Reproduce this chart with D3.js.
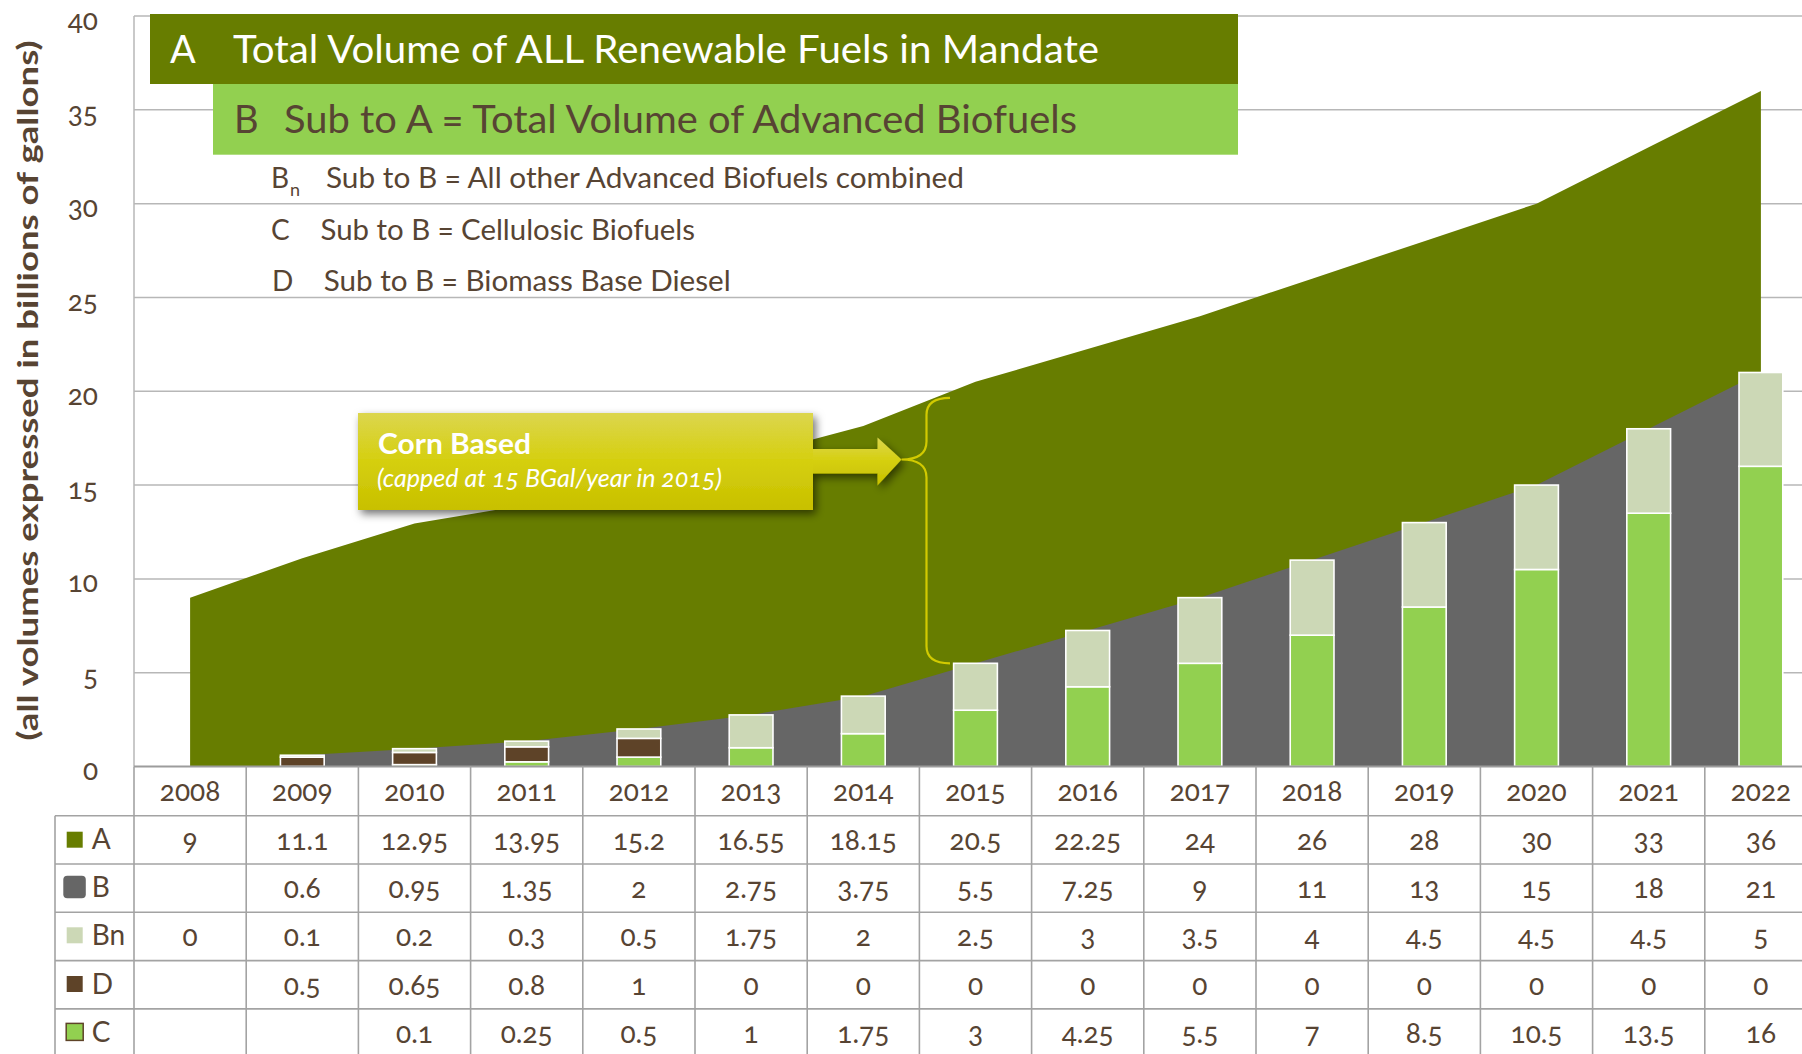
<!DOCTYPE html>
<html><head><meta charset="utf-8">
<script src="https://cdn.jsdelivr.net/npm/d3@7"></script>
<style>
html,body{margin:0;padding:0;background:#fff;}
svg{display:block;}
text{font-family:Lato,"Open Sans","Noto Sans",sans-serif;font-variant-numeric:oldstyle-nums;}
</style></head><body>
<svg id="chart" width="1802" height="1054"></svg>
<script>
// ---------- data ----------
const years  = [2008,2009,2010,2011,2012,2013,2014,2015,2016,2017,2018,2019,2020,2021,2022];
const seriesA  = [9,11.1,12.95,13.95,15.2,16.55,18.15,20.5,22.25,24,26,28,30,33,36];
const seriesB  = [null,0.6,0.95,1.35,2,2.75,3.75,5.5,7.25,9,11,13,15,18,21];
const seriesBn = [0,0.1,0.2,0.3,0.5,1.75,2,2.5,3,3.5,4,4.5,4.5,4.5,5];
const seriesD  = [null,0.5,0.65,0.8,1,0,0,0,0,0,0,0,0,0,0];
const seriesC  = [null,null,0.1,0.25,0.5,1,1.75,3,4.25,5.5,7,8.5,10.5,13.5,16];
const rowLabels = ["A","B","Bn","D","C"];
const yTicks = [0,5,10,15,20,25,30,35,40];
const yTitle = "(all volumes expressed in billions of gallons)";
const bannerA = ["A","Total Volume of ALL Renewable Fuels in Mandate"];
const bannerB = ["B","Sub to A = Total Volume of Advanced Biofuels"];
const subLines = [
  ["B","n","Sub to B = All other Advanced Biofuels combined"],
  ["C","","Sub to B = Cellulosic Biofuels"],
  ["D","","Sub to B = Biomass Base Diesel"]
];
const cornTitle = "Corn Based";
const cornSub = "(capped at 15 BGal/year in 2015)";
const cornYear = 2015;

// ---------- style ----------
const colA="#677d00", colB="#666666", colBn="#ccd8b6", colD="#5e4328", colC="#92d050";
const textCol="#574433", gridCol="#b7b7b7", tableCol="#a3a3a3";

const svg = d3.select("#chart");
const W = 1802, H = 1054;
const plotL = 134, plotR = W;
const colW = 112.2;

const x = d3.scaleBand().domain(years).range([plotL, plotL + colW*years.length]).paddingInner(0).paddingOuter(0);
const bw = x.bandwidth();
const cx = yr => x(yr) + bw/2;
const y = d3.scaleLinear().domain([0,40]).range([766.5,16]);

// defs
const defs = svg.append("defs");
const grad = defs.append("linearGradient").attr("id","cornGrad").attr("x1",0).attr("x2",0).attr("y1",0).attr("y2",1);
grad.append("stop").attr("offset","0%").attr("stop-color","#dcd64e");
grad.append("stop").attr("offset","50%").attr("stop-color","#d5cf0e");
grad.append("stop").attr("offset","100%").attr("stop-color","#c8c000");
const flt = defs.append("filter").attr("id","shadow").attr("x","-10%").attr("y","-20%").attr("width","130%").attr("height","150%");
flt.append("feDropShadow").attr("dx",3).attr("dy",4).attr("stdDeviation",4).attr("flood-color","#000").attr("flood-opacity",0.55);

// gridlines
svg.append("g").selectAll("line").data(yTicks.filter(t=>t>0)).join("line")
  .attr("x1",plotL).attr("x2",plotR).attr("y1",d=>y(d)).attr("y2",d=>y(d))
  .attr("stroke",gridCol).attr("stroke-width",1.5);
svg.append("line").attr("x1",plotL).attr("x2",plotL).attr("y1",y(40)).attr("y2",y(0))
  .attr("stroke",gridCol).attr("stroke-width",1.5);

// areas
const rowsA = years.map((yr,i)=>({yr, v:seriesA[i]}));
const rowsB = years.map((yr,i)=>({yr, v:seriesB[i]}));
const area = d3.area().defined(d=>d.v!=null).x(d=>cx(d.yr)).y0(y(0)).y1(d=>y(d.v));
svg.append("path").attr("d",area(rowsA)).attr("fill",colA);
svg.append("path").attr("d",area(rowsB)).attr("fill",colB);

// stacked bars: C bottom, D, Bn top
const barW = bw*0.39;
const stackRows = years.map((yr,i)=>({yr, C:seriesC[i]||0, D:seriesD[i]||0, Bn:seriesBn[i]||0}));
const stack = d3.stack().keys(["C","D","Bn"])(stackRows);
const barCols = {C:colC, D:colD, Bn:colBn};
const bars = svg.append("g");
stack.forEach(layer=>{
  bars.append("g").selectAll("rect").data(layer.filter(d=>d[1]-d[0]>0)).join("rect")
    .attr("x",d=>cx(d.data.yr)-barW/2).attr("width",barW)
    .attr("y",d=>y(d[1])).attr("height",d=>y(d[0])-y(d[1]))
    .attr("fill",barCols[layer.key]).attr("stroke","#fff").attr("stroke-width",1.6);
});

// baseline
svg.append("line").attr("x1",plotL).attr("x2",plotR).attr("y1",y(0)).attr("y2",y(0))
  .attr("stroke","#9c9c9c").attr("stroke-width",2);

// y tick labels
const yAxis = d3.axisLeft(y).tickValues(yTicks).tickSize(0).tickPadding(0).tickFormat(d3.format("d"));
const ya = svg.append("g").attr("transform","translate(98,0)").call(yAxis);
ya.select(".domain").remove();
ya.selectAll("text").attr("dy",null).attr("dominant-baseline",null)
  .attr("y",13).attr("x",0).attr("text-anchor","end")
  .attr("fill",textCol).style("font-size","28px").style("font-family","Lato, sans-serif");

// y title
svg.append("text").attr("transform","translate(38,390.5) rotate(-90)")
  .attr("text-anchor","middle").attr("fill",textCol)
  .style("font-size","28px").style("font-weight","bold")
  .attr("textLength",700).attr("lengthAdjust","spacingAndGlyphs").text(yTitle);

// banners
svg.append("rect").attr("x",150).attr("y",14).attr("width",1088).attr("height",70).attr("fill",colA);
svg.append("rect").attr("x",213).attr("y",84).attr("width",1025).attr("height",70.7).attr("fill",colC);
svg.append("text").attr("x",170).attr("y",63).attr("fill","#fff").style("font-size","38px").text(bannerA[0]);
svg.append("text").attr("x",233).attr("y",63).attr("fill","#fff").style("font-size","38px")
  .attr("textLength",866).attr("lengthAdjust","spacingAndGlyphs").text(bannerA[1]);
svg.append("text").attr("x",234).attr("y",133).attr("fill",textCol).style("font-size","38px").text(bannerB[0]);
svg.append("text").attr("x",284).attr("y",133).attr("fill",textCol).style("font-size","38px")
  .attr("textLength",793).attr("lengthAdjust","spacingAndGlyphs").text(bannerB[1]);

const subPos = [{lx:271,tx:326,len:638,by:188},{lx:271,tx:320.5,len:374.5,by:240},{lx:272,tx:323.7,len:407,by:290.7}];
subLines.forEach((l,i)=>{
  const p = subPos[i];
  svg.append("text").attr("x",p.lx).attr("y",p.by).attr("fill",textCol).style("font-size","28px").text(l[0]);
  if (l[1]) svg.append("text").attr("x",p.lx+19).attr("y",p.by+8).attr("fill",textCol).style("font-size","18px").text(l[1]);
  svg.append("text").attr("x",p.tx).attr("y",p.by).attr("fill",textCol).style("font-size","28px")
    .attr("textLength",p.len).attr("lengthAdjust","spacingAndGlyphs").text(l[2]);
});

// corn annotation
const cIdx = years.indexOf(cornYear);
const cxC = cx(cornYear);
const boxX = 358, boxY = 413, boxW = 455, boxH = 97;
const tipX = cxC - 74, tipY = 459.5;
const cg = svg.append("g").attr("filter","url(#shadow)");
cg.append("path").attr("d",
  `M${boxX+boxW-5},${tipY-10.5} L${tipX-24},${tipY-10.5} L${tipX-24},${tipY-22} L${tipX},${tipY} L${tipX-24},${tipY+26} L${tipX-24},${tipY+14} L${boxX+boxW-5},${tipY+14} Z`)
  .attr("fill","url(#cornGrad)");
cg.append("rect").attr("x",boxX).attr("y",boxY).attr("width",boxW).attr("height",boxH).attr("fill","url(#cornGrad)");
svg.append("text").attr("x",378).attr("y",454).attr("fill","#fff").style("font-size","29px").style("font-weight","bold")
  .attr("textLength",153).attr("lengthAdjust","spacingAndGlyphs").text(cornTitle);
svg.append("text").attr("x",377).attr("y",487).attr("fill","#fff").style("font-size","26px").style("font-style","italic")
  .attr("textLength",345).attr("lengthAdjust","spacingAndGlyphs").text(cornSub);

// brace
const bxEnd = cxC - 25.5, bxV = cxC - 49;
const byT = y(seriesA[cIdx]) + 16, byB = y(seriesB[cIdx]);
svg.append("path").attr("d",
  `M${bxEnd},${byT} Q${bxV},${byT} ${bxV},${byT+17} L${bxV},${tipY-18} Q${bxV},${tipY} ${tipX},${tipY} Q${bxV},${tipY} ${bxV},${tipY+18} L${bxV},${byB-17} Q${bxV},${byB} ${bxEnd},${byB}`)
  .attr("fill","none").attr("stroke","#d2ca00").attr("stroke-width",2.2);

// ---------- table ----------
const tTop = 766.5, yearRowH = 49.2, rowH = 48.3;
const dataTop = tTop + yearRowH;
const tbl = svg.append("g");
tbl.selectAll("line.h").data(d3.range(0,6)).join("line").attr("class","h")
  .attr("x1",55).attr("x2",W).attr("y1",i=>dataTop+i*rowH).attr("y2",i=>dataTop+i*rowH)
  .attr("stroke",tableCol).attr("stroke-width",1.6);
tbl.selectAll("line.v").data(d3.range(0,years.length+1)).join("line").attr("class","v")
  .attr("x1",i=>plotL+i*bw).attr("x2",i=>plotL+i*bw).attr("y1",tTop).attr("y2",H)
  .attr("stroke",tableCol).attr("stroke-width",1.6);
tbl.append("line").attr("x1",55).attr("x2",55).attr("y1",dataTop).attr("y2",H)
  .attr("stroke",tableCol).attr("stroke-width",1.6);
tbl.selectAll("text.yr").data(years).join("text").attr("class","yr")
  .attr("x",d=>cx(d)).attr("y",tTop+34.5).attr("text-anchor","middle")
  .attr("fill",textCol).style("font-size","28px").text(d=>d);
const rowsData = [seriesA, seriesB, seriesBn, seriesD, seriesC];
rowsData.forEach((vals,r)=>{
  const top = dataTop + r*rowH;
  tbl.append("g").selectAll("text").data(years.map((yr,i)=>({yr,v:vals[i]})).filter(d=>d.v!=null)).join("text")
    .attr("x",d=>cx(d.yr)).attr("y",top+34).attr("text-anchor","middle")
    .attr("fill",textCol).style("font-size","28px").text(d=>String(d.v));
  tbl.append("text").attr("x",91.7).attr("y",top+33).attr("fill",textCol).style("font-size","28px").text(rowLabels[r]);
});
const sw = [
  {fill:colA, x:66.7, dy:16, s:16},
  {fill:colB, x:63.3, dy:11.7, s:22.5, rx:4},
  {fill:colBn, x:66.7, dy:15, s:16},
  {fill:colD, x:66.7, dy:15.4, s:16},
  {fill:colC, x:66.2, dy:14.5, s:17, stroke:colD}
];
sw.forEach((s,r)=>{
  tbl.append("rect").attr("x",s.x).attr("y",dataTop+r*rowH+s.dy).attr("width",s.s).attr("height",s.s)
    .attr("rx",s.rx||0).attr("fill",s.fill).attr("stroke",s.stroke||"none").attr("stroke-width",1.5);
});
</script>
</body></html>
